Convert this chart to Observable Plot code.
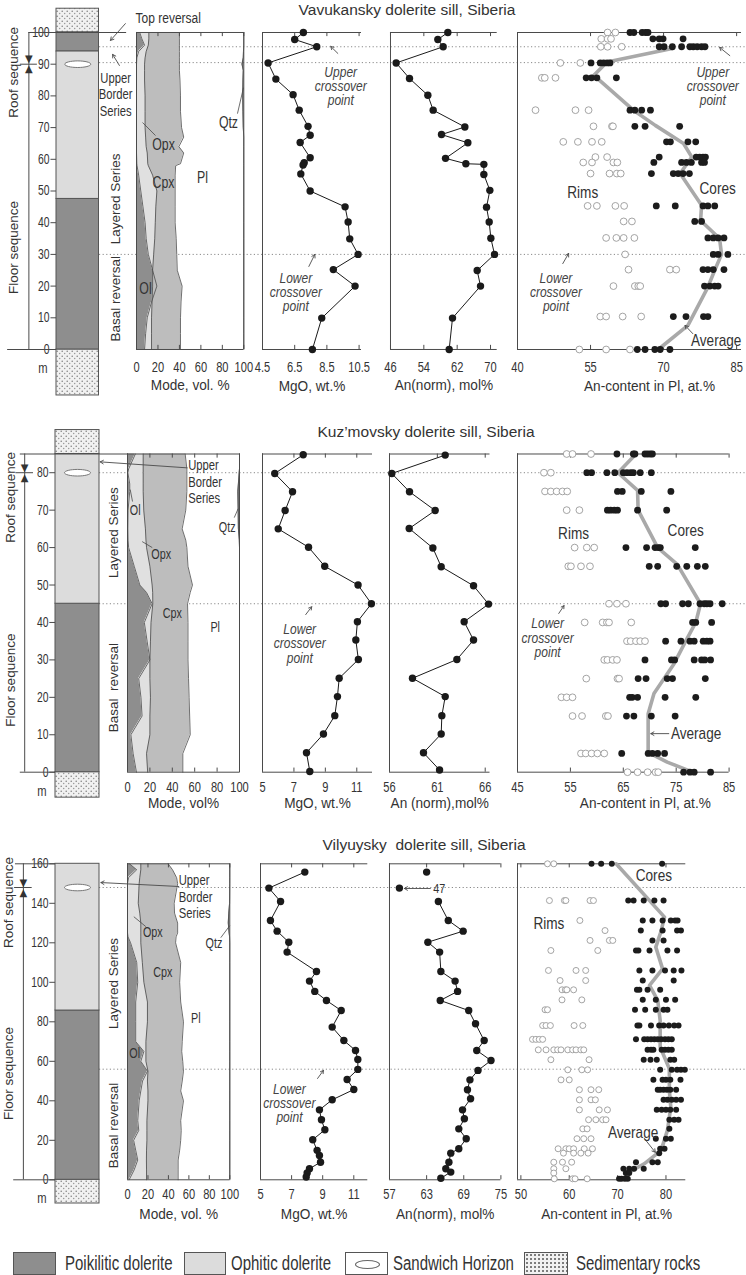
<!DOCTYPE html>
<html><head><meta charset="utf-8">
<script src="https://cdn.jsdelivr.net/npm/d3@7"></script>
<script src="https://cdn.jsdelivr.net/npm/@observablehq/plot@0.6"></script>
<style>
body{margin:0;background:#fff;}
#fig{position:relative;width:746px;height:1275px;overflow:hidden;color:#3a3a3a;}
.title{position:absolute;white-space:pre;transform:translateX(-50%);font-family:"Liberation Sans",Arial,sans-serif;font-size:15.5px;line-height:18px;color:#333;}
.lg{position:absolute;top:1252px;height:23px;box-sizing:border-box;border:1px solid #555;}
.lgt{position:absolute;top:1251px;font-family:"Liberation Sans",Arial,sans-serif;font-size:20px;line-height:24px;color:#333;white-space:nowrap;transform:scaleX(0.75);transform-origin:0 50%;}
</style></head><body>
<svg width="0" height="0" style="position:absolute;left:0;top:0"><defs><pattern id="sed" patternUnits="userSpaceOnUse" width="5" height="5"><rect width="5" height="5" fill="#f1f1f1"/><circle cx="1.2" cy="1.3" r="0.75" fill="#7a7a7a"/><circle cx="3.7" cy="3.6" r="0.75" fill="#999"/></pattern></defs></svg>
<div id="fig"></div>
<script>
// ---------------- DATA ----------------
// Vavukansky
const vavColTicks = [0,10,20,30,40,50,60,70,80,90,100];
const vavUnitType = ["sed","poik","ophi","poik","sed"];
const vavUnitTop  = [107.5,100,94,47.5,0];
const vavUnitBase = [100,94,47.5,0,-14.5];
const vavSandwich = 90, vavBoundary = 90;
const vavCross = [95.5, 90.5, 30];
const vavModeH  = [0,5,10,15,20,25,30,35,40,45,50,55,58,58.6,62,64,67,70,75,80,85,88,90,92,94,96,98,100];
const vavOl     = [7.5,8.5,10,14,19,15,11,9,8,6,4,2,0.5,0.3,0,0,0,0,0,0,0,0,0,0.3,2,7.5,5,3];
const vavOlOpx  = [14,14,14,14.5,15,15,16,17,17.5,18,19,15,11,10.5,10,9,8.5,8,8,8,7.5,7.5,7.5,8,9,11,11.5,11.5];
const vavCpxTop = [41,41,41,41.5,42.5,38,37.5,37,36,36,36,36,36.5,41,44,39.5,44,42,41,41,40.5,40,40,40,40,40,40,40];
const vavQtzLeft= [100,100,100,100,100,100,100,100,100,100,100,100,100,100,100,100,100,99.5,99.2,99,99.2,99.5,98.3,99.5,99.7,100,100,100];
const vavMgoH = [100,97.8,95.5,90.4,85.3,80.4,75.5,70.4,67.6,65.3,60.5,58.9,58.2,55.4,50,45,40.2,34.9,30,25.2,20,9.9,0];
const vavMgo  = [7.04,6.5,7.87,4.85,5.33,6.4,6.78,7.33,7.46,6.84,7.46,7.09,7.02,6.88,7.46,9.63,9.82,9.92,10.44,8.9,10.25,8.18,7.6];
const vavAnH = [100,97.8,95.5,90.4,85.5,80.2,75.5,70.2,67.8,65.2,60.3,58.6,58.4,55.2,50.2,44.9,40.2,35.1,30,24.9,20,9.9,0];
const vavAn  = [59.76,57.36,58.64,47.36,50.56,54.96,56.24,63.84,58.24,64.56,59.2,64.08,68.4,68.4,69.84,69.04,69.68,70.08,70.96,66.8,67.6,60.88,60.08];
const vavRims = [
 [100,[58.5,60.1]],[98,[57.2,58.5,59.2]],[95.5,[57.1,58.5,61.4]],[90.4,[48.8,52.9]],[85.7,[45.0,45.6,47.8]],
 [75.5,[43.7,51.9,54.6]],[70.4,[55.6,59.4,59.6]],[65.5,[49.4,52.4,55.3,57.3]],[60.7,[56.0,58.4]],[59,[53.5,55.3,59.7,60.5]],
 [55.5,[55.0,58.9,60.4,61.2]],[45.3,[54.4,56.3,60.1,61.9]],[40.4,[61.8,63.5]],[35.2,[58.2,60.3,61.8,64.0]],[30,[62.1]],
 [25.2,[62.8,71.3,72.6]],[20,[59.7,64.1,64.8,65.2]],[10.4,[57.0,58.2,61.6,65.4]],[0,[52.7,58.2,63.1]]];
const vavCores = [
 [100,[63.1,63.9,65.6,66.3,66.8]],[98,[67.8,69.1,69.9,74.0]],[95.5,[69.1,70.1,71.8,73.7,75.4,76.1,76.9,77.8,78.5]],
 [90.4,[55.1,57.0,57.7,58.4,59.0]],[85.7,[54.1,55.2,56.3,60.3]],[75.5,[63.1,64.1,65.5,67.3]],[70.4,[64.1,66.2,73.3]],
 [65.5,[70.6,71.4,75.0,76.6]],[60.7,[69.1,76.7,77.4,78.1,78.6]],[59,[68.0,73.7,74.7,75.7,77.8,78.4]],
 [55.5,[67.5,72.0,73.0,74.0,75.3]],[45.3,[68.5,72.4,78.1,79.1,80.5]],[40.4,[76.4,77.8]],[35.2,[79.1,80.2,81.2,82.4]],
 [30,[80.2,81.2,83.2]],[25.2,[78.1,79.1,80.2,82.4]],[20,[78.4,79.5,80.5,81.2]],[10.4,[72.0,74.6,78.2,79.1]],
 [0,[64.6,66.2,68.2,69.3,71.3]]];
const vavAvgH = [95,90.7,86.5,75.5,70.7,65,60.7,55.5,45.5,40.7,35,30,25,19.7,7.6,0];
const vavAvg  = [72,58.4,55.7,63.8,68.3,74.1,75.8,73.4,77.8,77.6,81.5,81.9,80.5,79.1,75,68.9];

// Kuz'movsky
const kuzColTicks = [0,10,20,30,40,50,60,70,80];
const kuzUnitType = ["sed","ophi","poik","sed"];
const kuzUnitTop  = [91.4,85,45,0];
const kuzUnitBase = [85,45,0,-6.8];
const kuzSandwich = 80, kuzBoundary = 80;
const kuzCross = [80, 45];
const kuzModeH  = [0,5,10,15,20,25,30,35,40,45,48,50,55,60,62,65,70,75,77,80,81,85];
const kuzOl     = [8,5,3,13,12,10,20,17.5,15,22,17,11,6,1,0.5,0.3,0.5,2,2,0.3,1,7];
const kuzOlOpx  = [18,17,20,20,20.5,20,20,20.5,21,22.6,22.5,22,20,17,16.5,16,14.5,14,14,14,14,14];
const kuzCpxTop = [49.4,49.4,56,55.5,55,54.5,54,54,54,53.6,56,58,54,53,52,48.8,52,53,53,53,53,51.5];
const kuzQtzLeft= [100,100,100,100,100,100,100,100,100,100,100,100,100,100,99.8,99,98.8,98.5,99,99.7,100,100];
const kuzMgoH = [84.8,79.8,74.9,69.9,65,60.1,55,50,45,40.2,35.3,30.1,25.1,20.2,15.1,10.2,5.2,0.2];
const kuzMgo  = [7.59,5.78,6.91,6.44,6.0,7.93,8.96,11.08,11.93,11.04,10.94,11.1,9.88,9.77,9.6,8.88,7.8,8.01];
const kuzAnH = [84.7,79.8,74.9,69.9,65.1,59.9,54.9,49.8,44.9,40.2,35.3,30.1,25.1,20.2,15.1,10.2,5.2,0.6];
const kuzAn  = [61.82,56.24,58.09,60.77,58.06,60.53,61.4,64.78,66.35,63.8,64.78,63.04,58.4,61.82,61.47,61.4,59.55,61.23];
const kuzRims = [
 [85,[54.3,55.4,58.9]],[80,[50.0,51.3]],[75,[50.2,51.3,52.4,53.5,54.4]],[70,[54.3,56.7]],[60,[55.8,58.1,59.5]],
 [55,[54.6,55.1,57.0,58.7]],[45,[62.3,63.8,65.5]],[40,[57.7,61.1,61.9,62.3,66.5]],[35,[65.7,66.4,67.4,68.2,69.1]],
 [30,[61.4,62.0,63.0,63.8]],[25,[58.0,63.9,64.2]],[20,[53.3,54.3,55.4]],[15,[55.4,57.2,61.7,62.1]],
 [5,[57.0,57.9,59.0,60.1,61.4]],[0,[65.8,67.7,69.6,71.1,71.6]]];
const kuzCores = [
 [85,[63.8,66.9,67.2,69.1,69.6,70.1,70.5]],[80,[58.1,59.0,61.9,63.4,65.0,65.7,66.4,66.9,68.2,70.3]],
 [75,[63.9,64.8,68.4,74.0]],[70,[62.0,62.6,63.3,63.9,67.7,73.2]],[60,[65.5,69.4,71.0,71.6,72.0,78.6]],
 [55,[69.9,71.5,75.1,77.0,79.0,80.5]],[45,[72.1,73.0,76.2,77.3,79.5,80.3,80.8,81.4,83.7]],[40,[78.1,78.7,81.7]],
 [35,[73.0,75.9,77.6,78.4,80.1,80.8,81.4]],[30,[69.1,74.1,74.7,78.4,79.8,80.4,81.5]],[25,[67.8,69.3,73.3,74.3,80.5]],
 [20,[66.2,66.7,67.7,72.9,78.7]],[15,[65.6,67.0,70.3,74.8]],[5,[64.7,69.7,70.5,71.5,72.8]],[0,[76.4,77.6,78.4,81.5]]];
const kuzAvgH = [85,80,75.3,70,60,55.5,45,40,35,29,21,15.6,5.3,2.7,0.4];
const kuzAvg  = [67.4,64.0,67.7,67.8,71.5,75.2,79.6,78.7,76.8,74.6,70.8,69.7,69.7,73.3,77.4];

// Vilyuysky
const vilColTicks = [0,20,40,60,80,100,120,140,160];
const vilUnitType = ["ophi","poik","sed"];
const vilUnitTop  = [160,85.7,0];
const vilUnitBase = [85.7,0,-12];
const vilSandwich = 148, vilBoundary = 148;
const vilCross = [148, 56];
const vilModeH  = [0,5,10,15,20,25,30,40,45,50,55,60,65,70,80,90,100,110,120,123,125,130,135,140,150,153,157,160];
const vilOl     = [1.6,6.5,10,8,6,11,10,11.4,13,14.7,19.5,13,16,8,8,8,10,9,3,0.5,0,0,0,0,0,1,9,2];
const vilOlOpx  = [18.6,18.6,18.5,18.6,19,19,19,20,20,19.5,20,18,18,18,19.5,19.5,16,14.5,13,13,13,13,12,10.5,11.4,12,13,13];
const vilCpxTop = [49.5,49.5,49.5,51,52,52.5,52,54.7,52,53.5,54.7,54,53,53.5,54.7,52,51,52,47,47.5,49,49,46,45.6,49,48,44,39.7];
const vilQtzLeft= [100,100,100,100,100,100,100,100,100,100,100,100,100,100,100,100,100,100,100,99.8,99.3,98.5,99,99.8,100,100,100,100];
const vilMgoH = [155.8,147.7,140.9,131.3,125.9,120.3,115.3,105.5,100.6,95.4,90.8,85.7,77.3,70.5,65.5,60.9,55.9,50.8,45.7,40.5,35.4,30.4,25.3,20.3,14.9,12.3,8.9,5.6,3.4,1.4];
const vilMgo  = [7.85,5.54,6.29,5.64,6.07,6.82,6.71,8.6,8.15,8.49,9.24,10.19,9.61,10.36,11.11,11.26,11.26,10.57,11.0,9.61,8.79,8.92,9.14,8.36,8.64,8.79,8.86,8.15,8.0,7.94];
const vilAnTopH = [155.8,147.7];
const vilAnTop  = [63.0,58.6];   // second value is the off-scale 47
const vilAnH = [140.9,131.3,125.9,120.3,115.3,105.5,100.6,95.4,90.8,85.7,79,70.5,65.5,60.4,55.4,50.6,45.6,41,35.4,30.9,25.8,20.8,15.7,13.5,8.9,5.6,3.9,0.8];
const vilAn  = [64.9,66.5,68.9,63.2,65.1,65.3,67.6,68.0,65.2,69.8,70.9,72.3,71.1,73.4,71.3,70.0,69.6,70.1,68.8,69.1,68.2,69.4,68.2,66.9,66.6,66.1,66.9,65.3];
const vilRims = [
 [160,[55.5,56.8]],[141.4,[55.9,59.0,59.3,64.3,65.0]],[131.3,[62.2]],[126.2,[67.4]],[121.2,[64.3,68.3,69.0]],
 [116.1,[56.2,65.9]],[106,[55.7,61.4,63.4]],[100.9,[58.1,63.4]],[96.2,[58.5,59.2,59.5,60.9]],[91.1,[58.5,62.6]],
 [86.1,[55.0,55.5]],[78.1,[54.5,55.2,56.1,61.0,62.8]],[71.1,[52.4,53.1,53.8,54.5]],
 [65.8,[53.6,55.2,56.8,57.6,58.3,59.7,60.7,61.4,62.4,63.0]],[60.8,[56.2,64.1]],[55.7,[59.7,62.6,63.8]],
 [50.6,[58.3,60.0]],[45.6,[62.1,64.5,66.1]],[40.5,[62.1,64.5,65.4]],[35.4,[62.1,66.2,67.9]],[30.4,[64.0,65.5,66.9,67.6]],
 [25.8,[62.8,63.7]],[20.8,[61.6,63.0,64.5]],[15.7,[57.7,59.3,60.0,60.9,63.1,64.8]],[13.5,[58.8,60.9,62.4,63.9]],
 [8.9,[56.8,58.6,60.5]],[5.6,[56.8,59.3]],[3.4,[56.8]],[0.5,[56.9,60.7,61.2,63.7]]];
const vilCores = [
 [160,[64.6,66.6,68.8,79.2]],[141.4,[72.2,73.3,75.4,77.6,79.5]],[131.3,[75.2,77.2,79.3,81.0,81.9,82.4]],
 [126.2,[74.8,79.3,82.3,83.1]],[121.2,[77.2,79.5]],[116.1,[73.8,74.3,76.6,80.3,82.3]],[106,[74.5,77.2,79.8,81.6,83.2]],
 [100.9,[75.2,81.6]],[96.2,[74.0,74.5,76.2,78.8]],[91.1,[75.2,77.9,80.0,81.9]],[86.1,[73.6,75.7,77.9,79.5,80.3]],
 [78.1,[74.1,74.5,76.9,78.6,79.5,80.6,81.7,82.6]],[71.1,[73.8,75.5,76.2,76.9,77.6,78.3,79.0,79.8,80.5,81.2]],
 [65.8,[76.2,76.9,77.4,79.1,79.8,80.5,81.2]],[60.8,[75.4,76.8,78.1,80.9,81.7]],[55.7,[78.8,81.2,82.3,83.1,83.9]],
 [50.6,[77.4,79.3,80.0,80.9,83.0]],[45.6,[78.3,78.8,79.5,80.2,80.9,82.1]],[40.5,[79.5,80.3,81.2,82.1,83.1]],
 [35.4,[78.1,79.1,80.0,80.9,82.1]],[30.4,[80.7,81.7,82.6]],[25.8,[80.7]],[20.8,[77.9,80.0,81.0]],[15.7,[78.8,79.7]],
 [13.5,[78.6]],[8.9,[73.8,77.2,78.3]],[5.6,[71.2,72.4,73.4,75.4]],[3.4,[71.7,72.4]],[0.5,[70.3,70.8,71.5,72.1]]];
const vilAvgH = [160,133,126,117.8,106.8,98.4,90.8,80.7,67.2,56.2,45.2,36.8,25,14.9,8.1,3.9,0.5];
const vilAvg  = [69.7,79.7,79,77.9,79.3,76.6,78.3,78.8,78.8,80.7,80.7,81,80.3,79,75.5,72.4,71.4];

// Legend
const legendNames = ["Poikilitic dolerite","Ophitic dolerite","Sandwich Horizon","Sedimentary rocks"];

// ---------------- DRAWING ----------------
const fig = document.getElementById("fig");
const FONT = '"Liberation Sans",Arial,sans-serif';
const INK = "#333", LINE = "#4a4a4a";
const POIK = "#8e8e8e", OPHI = "#dcdcdc", OLC = "#8e8e8e", OPXC = "#e0e0e0", CPXC = "#bdbdbd";
const ELLIPSE = {draw(ctx) { const rx = 13, ry = 3.3, k = 0.5523;
  ctx.moveTo(rx, 0); ctx.bezierCurveTo(rx, ry*k, rx*k, ry, 0, ry); ctx.bezierCurveTo(-rx*k, ry, -rx, ry*k, -rx, 0);
  ctx.bezierCurveTo(-rx, -ry*k, -rx*k, -ry, 0, -ry); ctx.bezierCurveTo(rx*k, -ry, rx, -ry*k, rx, 0); ctx.closePath(); }};
const sx = s => ({ariaDescription: "sx:" + s});

// condense the lettering horizontally like the (narrow-lettered) reference
const isNum = v => v !== null && /^-?[\d.]+(e-?\d+)?$/.test(v.trim());
function squishText(t, s) {
  let tr = t.getAttribute("transform") || "";
  const x = t.getAttribute("x"), y = t.getAttribute("y");
  if (isNum(x)) { tr = `translate(${x},0) ` + tr; t.removeAttribute("x"); }
  if (isNum(y)) { tr = `translate(0,${y}) ` + tr; t.removeAttribute("y"); }
  t.setAttribute("transform", (tr + ` scale(${s},1)`).trim());
}
function condense(svg) {
  svg.querySelectorAll("g[aria-description]").forEach(g => {
    const m = /sx:([\d.]+)/.exec(g.getAttribute("aria-description"));
    if (m) g.querySelectorAll("text").forEach(t => squishText(t, +m[1]));
  });
}
function mount(svg, left, top) { condense(svg); svg.style.position = "absolute"; svg.style.left = left + "px"; svg.style.top = top + "px"; fig.appendChild(svg); }
function plotAt(R, xa, xb, domain, marks, hasAxis) {
  const mL = 100, mR = 100;
  const svg = Plot.plot({
    width: (xb - xa) + mL + mR, height: R.bottom - R.top,
    marginLeft: mL, marginRight: mR, marginTop: R.yTop - R.top, marginBottom: R.bottom - R.yBot,
    x: hasAxis ? {domain} : {domain, axis: null},
    y: {domain: [0, R.hMax], axis: null},
    style: {background: "transparent", overflow: "visible", fontFamily: FONT, fontSize: "15px", color: INK},
    marks
  });
  mount(svg, xa - mL, R.top);
}
function axisMarks(R, P) {
  return [
    Plot.axisX({ticks: P.ticks, tickFormat: P.fmt || (d => String(d)), tickSize: 0, tickPadding: R.tickPad, fontSize: 15, label: null, ...sx(0.74)}),
    Plot.ruleX(P.ticks, {y1: 0, y2: R.hMax * 0.013, stroke: LINE}),
    Plot.ruleX(P.ticks, {y1: R.hMax, y2: R.hMax * 0.987, stroke: LINE}),
    Plot.ruleY([0, R.hMax], {stroke: LINE, strokeWidth: 1}),
    Plot.ruleX([P.domain[0]], {stroke: LINE, strokeWidth: 1}),
    Plot.text([P.label], {text: d => d, frameAnchor: "bottom", dy: R.labelDy, dx: P.labelDx || 0, fontSize: 15.5, ...sx(0.88)})
  ];
}
const pts = (h, v) => h.map((y, i) => ({h: y, v: v[i]}));
const flat = levels => levels.flatMap(([h, vs]) => vs.map(v => ({h, v})));
const texts = (list, o) => Plot.text(list || [], {x: "x", y: "y", text: "t", fill: "#333", ...o});
const arrows = list => Plot.arrow(list || [], {x1: "x1", y1: "y1", x2: "x2", y2: "y2", stroke: LINE, strokeWidth: 0.9, headLength: 6});
const links = list => Plot.link(list || [], {x1: "x1", y1: "y1", x2: "x2", y2: "y2", stroke: LINE, strokeWidth: 0.8});

function drawSill(S) {
  const R = S.row;
  const t = document.createElement("div"); t.className = "title"; t.textContent = S.title;
  t.style.left = S.tx + "px"; t.style.top = S.ty + "px"; fig.appendChild(t);

  // dotted crossover lines behind everything
  const bg = Plot.plot({width: 746 - 99, height: R.bottom - R.top, marginLeft: 0, marginRight: 0,
    marginTop: R.yTop - R.top, marginBottom: R.bottom - R.yBot,
    x: {domain: [0, 1], axis: null}, y: {domain: [0, R.hMax], axis: null},
    style: {background: "transparent", overflow: "visible"},
    marks: [Plot.ruleY(S.crossovers, {stroke: "#8a8a8a", strokeDasharray: "1.2,2.4", strokeWidth: 1})]});
  mount(bg, 99, R.top);

  // stratigraphic column
  const C = S.col;
  const units = C.type.map((u, i) => ({u, top: C.top[i], base: C.base[i]}));
  const fillOf = {sed: "url(#sed)", poik: POIK, ophi: OPHI};
  plotAt(R, C.xa, C.xb, [0, 1], [
    ...["sed", "poik", "ophi"].map(k => Plot.rect(units.filter(d => d.u === k), {x1: 0, x2: 1, y1: "base", y2: "top", fill: fillOf[k], stroke: "#555", strokeWidth: 1})),
    Plot.dot([C.sandwich], {x: 0.5, y: d => d, symbol: ELLIPSE, fill: "white", stroke: "#777", strokeWidth: 1}),
    Plot.ruleY(C.ticks, {x1: -0.13, x2: 0, stroke: LINE}),
    Plot.text(C.ticks, {x: 0, y: d => d, text: d => String(d), dx: -7, textAnchor: "end", fontSize: 14, ...sx(0.74)}),
    Plot.text(["m"], {x: 0, y: 0, text: d => d, dx: -9, dy: 19, textAnchor: "end", fontSize: 14, ...sx(0.8)}),
    Plot.ruleX([C.vx], {y1: 0, y2: R.hMax, stroke: LINE}),
    Plot.ruleY([R.hMax], {x1: C.topX[0], x2: C.topX[1], stroke: LINE}),
    Plot.ruleY([0], {x1: C.botX[0], x2: C.botX[1], stroke: LINE}),
    Plot.ruleY([C.boundary], {x1: C.vx - 0.2, x2: C.vx + 0.2, stroke: LINE}),
    Plot.text([C.boundary], {x: C.vx, y: d => d, text: () => "\u25BC", dy: -5, fontSize: 10, fontFamily: "DejaVu Sans", fill: "#333"}),
    Plot.text([C.boundary], {x: C.vx, y: d => d, text: () => "\u25B2", dy: 5, fontSize: 10, fontFamily: "DejaVu Sans", fill: "#333"}),
    texts(C.rot, {rotate: -90, fontSize: 13.5}),
    texts(C.texts.filter(d => d.a === "start"), {textAnchor: "start", fontSize: 15, ...sx(0.8)}),
    texts(C.texts.filter(d => d.a !== "start"), {fontSize: 15, lineHeight: 1.1, ...sx(0.75)}),
    arrows(C.arrows)
  ], false);

  // mode panel
  const M = S.mode;
  const md = M.h.map((h, i) => ({h, ol: M.ol[i], olopx: M.olopx[i], cpx: M.cpx[i], qtz: M.qtz[i]}));
  plotAt(R, M.xa, M.xb, [0, 100], [
    Plot.areaX(md, {y: "h", x1: 0, x2: "ol", fill: OLC}),
    Plot.areaX(md, {y: "h", x1: "ol", x2: "olopx", fill: OPXC}),
    Plot.areaX(md, {y: "h", x1: "olopx", x2: "cpx", fill: CPXC}),
    Plot.areaX(md, {y: "h", x1: "qtz", x2: 100, fill: "#7a7a7a"}),
    ...["ol", "olopx", "cpx", "qtz"].map(k => Plot.lineX(md, {y: "h", x: k, stroke: LINE, strokeWidth: 0.8})),
    Plot.ruleX([100], {stroke: LINE}),
    ...axisMarks(R, {ticks: [0, 20, 40, 60, 80, 100], domain: [0, 100], label: M.label}),
    texts(M.texts, {fontSize: M.fs, ...sx(0.77)}),
    texts(M.ubs, {textAnchor: "start", fontSize: 15, lineHeight: 1.1, ...sx(0.75)}),
    links(M.leaders), arrows(M.arrows)
  ], true);

  // MgO panel
  const G = S.mgo;
  const gp = pts(G.h, G.v);
  plotAt(R, G.xa, G.xb, G.domain, [
    ...axisMarks(R, G),
    Plot.line(gp, {x: "v", y: "h", stroke: "#1a1a1a", strokeWidth: 1}),
    Plot.dot(gp, {x: "v", y: "h", r: 3.7, fill: "#1a1a1a"}),
    texts(G.italic, {fontStyle: "italic", fontSize: 14, fill: "#444", lineHeight: 1.02, ...sx(0.86)}),
    arrows(G.arrows)
  ], true);

  // An(norm) panel
  const A = S.an;
  const ap = pts(A.h, A.v);
  plotAt(R, A.xa, A.xb, A.domain, [
    ...axisMarks(R, A),
    Plot.line(ap, {x: "v", y: "h", stroke: "#1a1a1a", strokeWidth: 1}),
    Plot.dot(ap, {x: "v", y: "h", r: 3.7, fill: "#1a1a1a"}),
    Plot.dot(pts(A.topH || [], A.top || []), {x: "v", y: "h", r: 3.7, fill: "#1a1a1a"}),
    texts(A.texts, {textAnchor: "start", fontSize: 13.5, ...sx(0.8)}),
    arrows(A.arrows)
  ], true);

  // An-content scatter
  const P = S.sc;
  plotAt(R, P.xa, P.xb, P.domain, [
    ...axisMarks(R, P),
    Plot.line(pts(P.avgH, P.avg), {x: "v", y: "h", stroke: "#a9a9a9", strokeWidth: 3.6, strokeLinejoin: "round"}),
    Plot.dot(flat(P.rims), {x: "v", y: "h", r: P.r, fill: "white", stroke: "#9a9a9a", strokeWidth: 0.9}),
    Plot.dot(flat(P.cores), {x: "v", y: "h", r: P.r, fill: "#1c1c1c"}),
    texts(P.texts, {fontSize: 16, ...sx(0.85)}),
    texts(P.textsStart, {fontSize: 16, textAnchor: "start", ...sx(0.85)}),
    texts(P.italic, {fontStyle: "italic", fontSize: 14, fill: "#444", lineHeight: 1.02, ...sx(0.86)}),
    arrows(P.arrows)
  ], true);
}

const SILLS = [
{
  title: "Vavukansky dolerite sill, Siberia", tx: 407, ty: 1,
  row: {top: 0, bottom: 400, yTop: 32, yBot: 349, hMax: 100, tickPad: 12, labelDy: 41},
  crossovers: vavCross,
  col: {xa: 56, xb: 98.5, ticks: vavColTicks, type: vavUnitType, top: vavUnitTop, base: vavUnitBase,
    sandwich: vavSandwich, boundary: vavBoundary, vx: -0.65, topX: [-0.65, 1.65], botX: [-1.15, 0],
    texts: [{x: 1.86, y: 104.4, t: "Top reversal", a: "start"}, {x: 1.39, y: 80.6, t: "Upper\nBorder\nSeries"}],
    rot: [{x: -1.0, y: 87.4, t: "Roof sequence"}, {x: -1.0, y: 32.2, t: "Floor sequence"}, {x: 1.39, y: 47.5, t: "Layered Series"}, {x: 1.39, y: 16, t: "Basal reversal"}],
    arrows: [{x1: 1.62, y1: 102.8, x2: 1.27, y2: 97.5}, {x1: 1.48, y1: 89.6, x2: 1.32, y2: 93.1}]},
  mode: {xa: 136, xb: 243.3, h: vavModeH, ol: vavOl, olopx: vavOlOpx, cpx: vavCpxTop, qtz: vavQtzLeft, label: "Mode, vol. %", fs: 16,
    texts: [{x: 25.2, y: 64.4, t: "Opx"}, {x: 25.2, y: 52.7, t: "Cpx"}, {x: 61.5, y: 54, t: "Pl"}, {x: 85.7, y: 71.6, t: "Qtz"}, {x: 8.4, y: 19.2, t: "Ol"}],
    leaders: [{x1: 17.7, y1: 67.5, x2: 5.6, y2: 71.6}, {x1: 94.1, y1: 74.4, x2: 99.7, y2: 82.6}]},
  mgo: {xa: 261.7, xb: 360.7, domain: [4.5, 10.65], ticks: [4.5, 6.5, 8.5, 10.5], fmt: ".1f", h: vavMgoH, v: vavMgo, label: "MgO, wt.%",
    italic: [{x: 9.36, y: 83, t: "Upper\ncrossover\npoint"}, {x: 6.57, y: 18, t: "Lower\ncrossover\npoint"}],
    arrows: [{x1: 9.18, y1: 93.4, x2: 8.74, y2: 95.6}, {x1: 7.38, y1: 26.2, x2: 7.75, y2: 30}]},
  an: {xa: 390, xb: 496.7, domain: [46, 71.6], ticks: [46, 54, 62, 70], h: vavAnH, v: vavAn, label: "An(norm), mol%"},
  sc: {xa: 516.7, xb: 740.7, domain: [40, 86], ticks: [40, 55, 70, 85], rims: vavRims, cores: vavCores, avgH: vavAvgH, avg: vavAvg, r: 3.4,
    label: "An-content in Pl, at.%", labelDx: 20,
    texts: [{x: 53.4, y: 49.5, t: "Rims"}, {x: 81.1, y: 50.8, t: "Cores"}, {x: 80.8, y: 2.8, t: "Average"}],
    italic: [{x: 80.1, y: 83, t: "Upper\ncrossover\npoint"}, {x: 47.9, y: 18, t: "Lower\ncrossover\npoint"}],
    arrows: [{x1: 83.6, y1: 92.7, x2: 81.5, y2: 95.3}, {x1: 49.3, y1: 27.1, x2: 50.5, y2: 30.3}, {x1: 76.0, y1: 5.0, x2: 74.4, y2: 7.6}]}
},
{
  title: "Kuz\u2019movsky dolerite sill, Siberia", tx: 426, ty: 423,
  row: {top: 400, bottom: 820, yTop: 453.5, yBot: 771.7, hMax: 85, tickPad: 9, labelDy: 36},
  crossovers: kuzCross,
  col: {xa: 55, xb: 99, ticks: kuzColTicks, type: kuzUnitType, top: kuzUnitTop, base: kuzUnitBase,
    sandwich: kuzSandwich, boundary: kuzBoundary, vx: -0.7, topX: [-0.8, 1.64], botX: [-0.8, 0],
    texts: [],
    rot: [{x: -1.02, y: 73.4, t: "Roof sequence"}, {x: -1.02, y: 24.6, t: "Floor sequence"}, {x: 1.32, y: 64, t: "Layered Series"}, {x: 1.32, y: 22.6, t: "Basal  reversal"}],
    arrows: []},
  mode: {xa: 127.3, xb: 239.3, h: kuzModeH, ol: kuzOl, olopx: kuzOlOpx, cpx: kuzCpxTop, qtz: kuzQtzLeft, label: "Mode, vol%", fs: 14,
    texts: [{x: 6.9, y: 69.9, t: "Ol"}, {x: 30.1, y: 58.1, t: "Opx"}, {x: 40, y: 42.3, t: "Cpx"}, {x: 78.3, y: 38.6, t: "Pl"}, {x: 89, y: 65.3, t: "Qtz"}],
    ubs: [{x: 54.2, y: 77.7, t: "Upper\nBorder\nSeries"}],
    leaders: [{x1: 4.5, y1: 72.3, x2: 2.4, y2: 75.5}, {x1: 22.1, y1: 60, x2: 13.1, y2: 61.6}, {x1: 95.3, y1: 68, x2: 98.8, y2: 70.4}],
    arrows: [{x1: 53.3, y1: 81.3, x2: -24.4, y2: 82.9}]},
  mgo: {xa: 261.7, xb: 371.7, domain: [5, 12], ticks: [5, 7, 9, 11], h: kuzMgoH, v: kuzMgo, label: "MgO, wt.%",
    italic: [{x: 7.37, y: 34.3, t: "Lower\ncrossover\npoint"}],
    arrows: [{x1: 7.75, y1: 42.1, x2: 8.13, y2: 44.2}]},
  an: {xa: 389.3, xb: 489.8, domain: [56, 66.5], ticks: [56, 61, 66], h: kuzAnH, v: kuzAn, label: "An (norm),mol%"},
  sc: {xa: 516.7, xb: 728.3, domain: [45, 85], ticks: [45, 55, 65, 75, 85], rims: kuzRims, cores: kuzCores, avgH: kuzAvgH, avg: kuzAvg, r: 3.4,
    label: "An-content in Pl, at.%", labelDx: 22,
    texts: [{x: 55.6, y: 63.6, t: "Rims"}, {x: 76.8, y: 64.4, t: "Cores"}],
    textsStart: [{x: 74.0, y: 10.3, t: "Average"}],
    italic: [{x: 50.7, y: 35.8, t: "Lower\ncrossover\npoint"}],
    arrows: [{x1: 52.8, y1: 42.4, x2: 53.8, y2: 44.5}, {x1: 73.6, y1: 10.3, x2: 70.2, y2: 10.3}]}
},
{
  title: "Vilyuysky  dolerite sill, Siberia", tx: 424, ty: 836,
  row: {top: 820, bottom: 1240, yTop: 863.3, yBot: 1179.3, hMax: 160, tickPad: 9, labelDy: 39},
  crossovers: vilCross,
  col: {xa: 55, xb: 99, ticks: vilColTicks, type: vilUnitType, top: vilUnitTop, base: vilUnitBase,
    sandwich: vilSandwich, boundary: vilBoundary, vx: -0.73, topX: [-0.91, 0], botX: [-0.95, 0],
    texts: [],
    rot: [{x: -1.07, y: 140.4, t: "Roof sequence"}, {x: -1.07, y: 53.8, t: "Floor sequence"}, {x: 1.32, y: 99.4, t: "Layered Series"}, {x: 1.32, y: 27.5, t: "Basal reversal"}],
    arrows: []},
  mode: {xa: 126.7, xb: 229, h: vilModeH, ol: vilOl, olopx: vilOlOpx, cpx: vilCpxTop, qtz: vilQtzLeft, label: "Mode, vol. %", fs: 14,
    texts: [{x: 24.7, y: 125.2, t: "Opx"}, {x: 84.5, y: 119.6, t: "Qtz"}, {x: 34.5, y: 105, t: "Cpx"}, {x: 66.8, y: 81.7, t: "Pl"}, {x: 7.1, y: 64, t: "Ol"}],
    ubs: [{x: 50.1, y: 143.5, t: "Upper\nBorder\nSeries"}],
    leaders: [{x1: 17.9, y1: 128.2, x2: 6.2, y2: 133.2}, {x1: 91.2, y1: 122.6, x2: 100, y2: 128.7}],
    arrows: [{x1: 50.1, y1: 148.5, x2: -26, y2: 150.5}]},
  mgo: {xa: 260, xb: 367.3, domain: [5, 11.9], ticks: [5, 7, 9, 11], h: vilMgoH, v: vilMgo, label: "MgO, wt.%",
    italic: [{x: 6.86, y: 38.6, t: "Lower\ncrossover\npoint"}],
    arrows: [{x1: 8.67, y1: 51.3, x2: 9.05, y2: 55.4}]},
  an: {xa: 389.3, xb: 500.7, domain: [57, 75], ticks: [57, 63, 69, 75], h: vilAnH, v: vilAn, topH: vilAnTopH, top: vilAnTop, label: "An(norm), mol%",
    texts: [{x: 64.05, y: 147.5, t: "47"}], arrows: [{x1: 63.6, y1: 147.5, x2: 59.4, y2: 147.5}]},
  sc: {xa: 516.7, xb: 685, domain: [49.3, 84.1], ticks: [50, 60, 70, 80], rims: vilRims, cores: vilCores, avgH: vilAvgH, avg: vilAvg, r: 3.0,
    label: "An-content in Pl, at.%", labelDx: 5,
    texts: [{x: 77.5, y: 154, t: "Cores"}, {x: 55.8, y: 129.8, t: "Rims"}, {x: 73.2, y: 24, t: "Average"}],
    arrows: [{x1: 75.5, y1: 21, x2: 77.8, y2: 13.9}]}
}];

SILLS.forEach(drawSill);

// legend
const lgX = [12.5, 184, 345, 524], lgW = [43.5, 42, 43, 44], lgTx = [65, 231, 393, 576];
legendNames.forEach((name, i) => {
  const b = document.createElement("div"); b.className = "lg";
  b.style.left = lgX[i] + "px"; b.style.width = lgW[i] + "px";
  if (i === 0) b.style.background = POIK;
  if (i === 1) b.style.background = OPHI;
  if (i === 2) { b.style.background = "#fff"; const e = document.createElement("div");
    e.style.cssText = "position:absolute;left:9px;top:7px;width:23px;height:7px;border:1px solid #666;border-radius:50%;"; b.appendChild(e); }
  if (i === 3) b.style.cssText += "background:#f1f1f1 radial-gradient(#7a7a7a 0.7px, transparent 1.1px) 0 0/4px 4px;";
  fig.appendChild(b);
  const t = document.createElement("div"); t.className = "lgt"; t.textContent = name; t.style.left = lgTx[i] + "px";
  fig.appendChild(t);
});
</script></body></html>
